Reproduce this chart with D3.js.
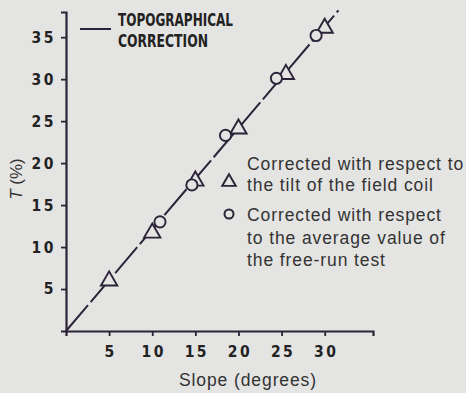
<!DOCTYPE html>
<html><head><meta charset="utf-8">
<script src="https://cdn.jsdelivr.net/npm/d3@7"></script>
<style>
html,body{margin:0;padding:0;background:#e4e4e2;}
svg{display:block;}
</style></head>
<body>
<svg id="chart" width="466" height="393"></svg>
<script>
const xTicks = [5, 10, 15, 20, 25, 30];
const yTicks = [5, 10, 15, 20, 25, 30, 35];
const triSlope = [5, 10, 15, 20, 25.5, 30];
const triT = [6.1, 11.8, 18.0, 24.2, 30.7, 36.2];
const circSlope = [10.9, 14.6, 18.5, 24.4, 29.0];
const circT = [13.0, 17.4, 23.3, 30.1, 35.2];
const lineSlope = [0, 31.6];
const lineT = [0, 38.2];
const legendTopLines = ["TOPOGRAPHICAL", "CORRECTION"];
const legendTri = ["Corrected with respect to", "the tilt of the field coil"];
const legendCirc = ["Corrected with respect", "to the average value of", "the free-run test"];

const ink = "#2b2337";
const bg = "#e4e4e2";
const svg = d3.select("#chart");
const x = d3.scaleLinear().domain([0, 35.6]).range([66, 373]);
const y = d3.scaleLinear().domain([0, 38]).range([331, 12]);

const tickFont = "'Liberation Sans Narrow', 'DejaVu Sans Condensed', sans-serif";

// axes
const xAxis = svg.append("g").attr("transform", `translate(0,${y(0)})`)
  .call(d3.axisBottom(x).tickValues(xTicks).tickSize(5).tickPadding(10).tickFormat(d3.format("d")));
const yAxis = svg.append("g").attr("transform", `translate(${x(0)},0)`)
  .call(d3.axisLeft(y).tickValues(yTicks).tickSize(5).tickPadding(5).tickFormat(d3.format("d")));
[xAxis, yAxis].forEach(g => {
  g.select(".domain").attr("stroke", ink).attr("stroke-width", 2.2);
  g.selectAll(".tick line").attr("stroke", ink).attr("stroke-width", 1.8);
  g.selectAll(".tick text").attr("fill", "#222").attr("font-family", tickFont)
    .attr("font-weight", "bold").attr("font-size", 15.5).attr("letter-spacing", 2.5);
});
xAxis.selectAll(".tick text").attr("dx", 1);

// fitted line
const lineData = lineSlope.map((s, i) => [s, lineT[i]]);
svg.append("path").datum(lineData)
  .attr("d", d3.line().x(d => x(d[0])).y(d => y(d[1])))
  .attr("stroke", ink).attr("stroke-width", 2).attr("fill", "none")
  .attr("stroke-dasharray", "34,4");

// triangles
const triSym = d3.symbol().type(d3.symbolTriangle).size(115);
svg.selectAll("path.tri").data(triSlope.map((s, i) => [s, triT[i]])).join("path")
  .attr("class", "tri").attr("d", triSym)
  .attr("transform", d => `translate(${x(d[0])},${y(d[1]) + 1})`)
  .attr("fill", bg).attr("stroke", ink).attr("stroke-width", 1.9);

// circles
svg.selectAll("circle.c").data(circSlope.map((s, i) => [s, circT[i]])).join("circle")
  .attr("class", "c").attr("cx", d => x(d[0])).attr("cy", d => y(d[1])).attr("r", 5.6)
  .attr("fill", bg).attr("stroke", ink).attr("stroke-width", 1.9);

// top legend
svg.append("line").attr("x1", 80).attr("x2", 111).attr("y1", 29).attr("y2", 29)
  .attr("stroke", ink).attr("stroke-width", 2);
svg.append("g").selectAll("text").data(legendTopLines).join("text")
  .attr("x", 118).attr("y", (d, i) => 26 + i * 21)
  .attr("font-family", tickFont).attr("font-weight", "bold").attr("font-size", 18)
  .attr("fill", "#222")
  .attr("textLength", (d, i) => i === 0 ? 115 : 90).attr("lengthAdjust", "spacingAndGlyphs")
  .text(d => d);

// marker legend
const legFont = "'Liberation Sans', Arial, sans-serif";
const legSym = d3.symbol().type(d3.symbolTriangle).size(80);
svg.append("path").attr("d", legSym).attr("transform", "translate(229,182)")
  .attr("fill", "none").attr("stroke", ink).attr("stroke-width", 1.9);
svg.append("g").selectAll("text").data(legendTri).join("text")
  .attr("x", 247).attr("y", (d, i) => 170 + i * 21)
  .attr("font-family", legFont).attr("font-size", 17.5).attr("letter-spacing", 0.9).attr("fill", "#333")
  .text(d => d);
svg.append("circle").attr("cx", 229).attr("cy", 214).attr("r", 4.5)
  .attr("fill", "none").attr("stroke", ink).attr("stroke-width", 2);
svg.append("g").selectAll("text").data(legendCirc).join("text")
  .attr("x", 247).attr("y", (d, i) => 221 + i * 22.5)
  .attr("font-family", legFont).attr("font-size", 17.5).attr("letter-spacing", 0.9).attr("fill", "#333")
  .text(d => d);

// axis titles
svg.append("text").attr("x", 248).attr("y", 386).attr("text-anchor", "middle")
  .attr("font-family", legFont).attr("font-size", 17.5).attr("letter-spacing", 0.9).attr("fill", "#333")
  .text("Slope (degrees)");
const yl = svg.append("text").attr("transform", "translate(22,179) rotate(-90)")
  .attr("text-anchor", "middle").attr("font-family", legFont).attr("font-size", 17).attr("fill", "#333");
yl.append("tspan").attr("font-style", "italic").text("T");
yl.append("tspan").text(" (%)");
</script>
</body></html>
